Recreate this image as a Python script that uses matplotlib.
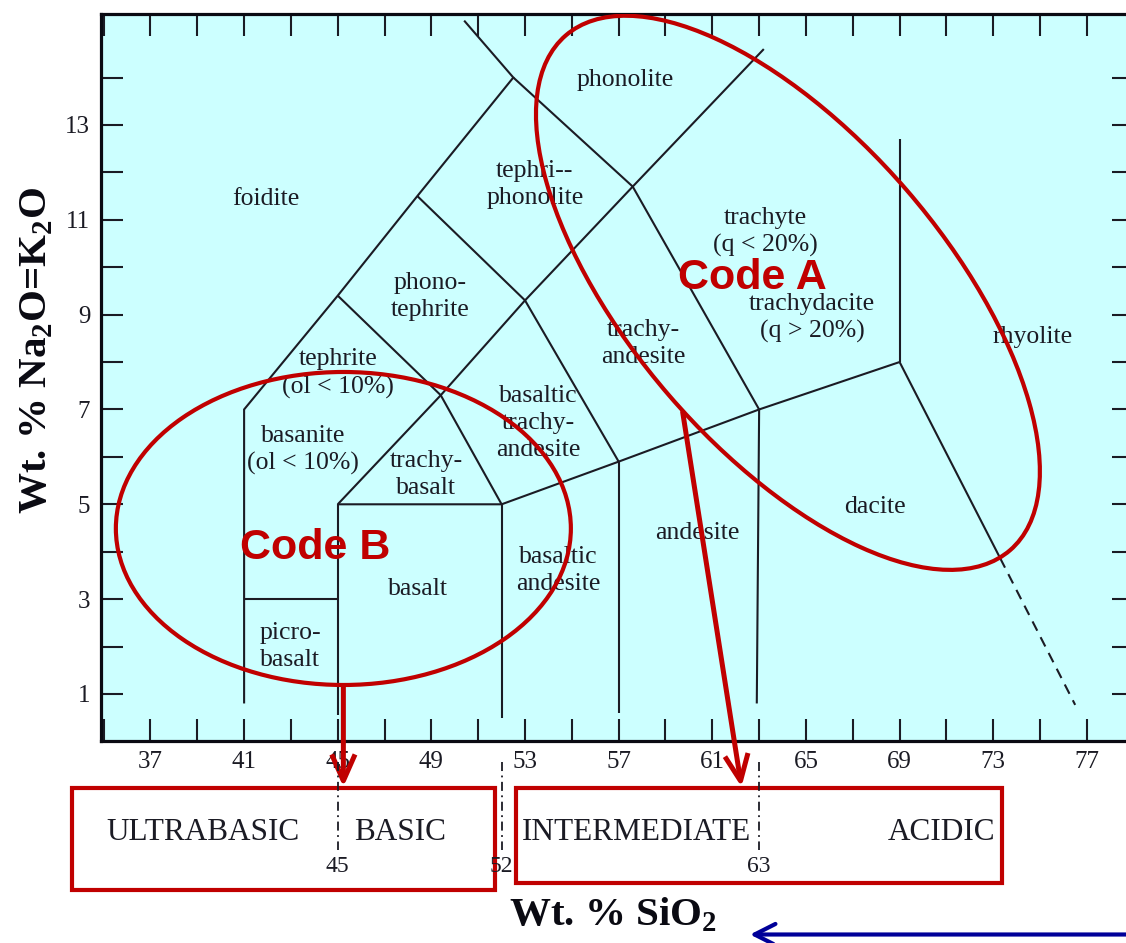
import matplotlib
matplotlib.use("Agg")
import matplotlib.pyplot as plt
import matplotlib.transforms as mtransforms
from matplotlib.patches import Ellipse, Rectangle, FancyArrowPatch
from matplotlib.ticker import FixedLocator

plt.rcParams['font.family'] = ['Liberation Serif', 'DejaVu Serif']

W, H, DPI = 1126, 943, 100
INK = '#1b1b24'
RED = '#c00000'
NAVY = '#000099'
FIELD_BG = '#ccffff'

# ---- TAS classification boundaries (wt% SiO2, wt% Na2O+K2O) ----
foidite_x = [41, 41, 45, 48.4, 52.5, 50.4]
foidite_y = [0.8, 7, 9.4, 11.5, 14, 15.2]

alkali_x = [45, 49.4, 53, 57.6, 63.2]
alkali_y = [5, 7.3, 9.3, 11.7, 14.6]

subalkali_x = [45, 52, 57, 63, 69]
subalkali_y = [5, 5, 5.9, 7, 8]

picro_x = [41, 45]
picro_y = [3, 3]

diag_segments = [
    ([52.5, 57.6], [14, 11.7]),   # phonolite / tephriphonolite
    ([48.4, 53], [11.5, 9.3]),    # tephriphonolite / phonotephrite
    ([45, 49.4], [9.4, 7.3]),     # phonotephrite / tephrite
    ([49.4, 52], [7.3, 5]),       # trachybasalt / basaltic trachyandesite
    ([53, 57], [9.3, 5.9]),       # basaltic trachyandesite / trachyandesite
    ([57.6, 63], [11.7, 7]),      # trachyandesite / trachyte
    ([69, 69], [12.7, 8]),        # trachyte / rhyolite
    ([45, 45], [0.55, 5]),
    ([52, 52], [0.5, 5]),
    ([57, 57], [0.6, 5.9]),
    ([62.9, 63], [0.8, 7]),
]

rhyolite_solid_x = [69, 73.3]
rhyolite_solid_y = [8, 3.86]
rhyolite_dash_x = [73.3, 76.5]
rhyolite_dash_y = [3.86, 0.77]

# ---- field names ----
field_names = [
    ('foidite', 41.93, 11.44),
    ('phonolite', 57.27, 13.95),
    ('tephri--\nphonolite', 53.42, 11.75),
    ('trachyte\n(q < 20%)', 63.25, 10.74),
    ('trachydacite\n(q > 20%)', 65.26, 8.93),
    ('phono-\ntephrite', 48.94, 9.39),
    ('trachy-\nandesite', 58.04, 8.40),
    ('rhyolite', 74.7, 8.53),
    ('tephrite\n(ol < 10%)', 45.0, 7.76),
    ('basaltic\ntrachy-\nandesite', 53.56, 6.71),
    ('basanite\n(ol < 10%)', 43.51, 6.15),
    ('trachy-\nbasalt', 48.77, 5.62),
    ('dacite', 67.95, 4.94),
    ('andesite', 60.38, 4.40),
    ('basaltic\nandesite', 54.41, 3.61),
    ('basalt', 48.43, 3.21),
    ('picro-\nbasalt', 42.96, 2.01),
]

# ---- silica classes ----
class_limits = [45, 52, 63]
class_names = ['ULTRABASIC', 'BASIC', 'INTERMEDIATE', 'ACIDIC']
class_name_x = [39.24, 47.66, 57.78, 70.8]

x_major = [37, 41, 45, 49, 53, 57, 61, 65, 69, 73, 77]
x_minor = [35, 39, 43, 47, 51, 55, 59, 63, 67, 71, 75, 79]
y_major = [1, 3, 5, 7, 9, 11, 13]
y_minor = [2, 4, 6, 8, 10, 12, 14]

# ---- figure & main axes ----
fig = plt.figure(figsize=(W / DPI, H / DPI), dpi=DPI)
fig.patch.set_facecolor('white')
x0, x1, y0, y1 = 34.9, 79.0, 0.0, 15.35
ax = fig.add_axes([101.3 / W, 1 - 741.4 / H, (1133.7 - 101.3) / W, (741.4 - 13.5) / H])
ax.set_xlim(x0, x1)
ax.set_ylim(y0, y1)
ax.set_facecolor(FIELD_BG)

for s in ax.spines.values():
    s.set_linewidth(2.3)
    s.set_color('#0a0a12')

ax.xaxis.set_major_locator(FixedLocator(x_major))
ax.xaxis.set_minor_locator(FixedLocator(x_minor))
ax.yaxis.set_major_locator(FixedLocator(y_major))
ax.yaxis.set_minor_locator(FixedLocator(y_minor))
ax.tick_params(which='both', direction='in', length=16, width=1.5, color=INK,
               top=True, right=True)
ax.tick_params(which='major', labelsize=18, labelcolor=INK)
ax.tick_params(axis='x', which='major', pad=7)
ax.tick_params(axis='y', which='major', pad=8)

line_kw = dict(color=INK, lw=1.5, solid_capstyle='butt', solid_joinstyle='miter')
ax.plot(foidite_x, foidite_y, **line_kw)
ax.plot(alkali_x, alkali_y, **line_kw)
ax.plot(subalkali_x, subalkali_y, **line_kw)
ax.plot(picro_x, picro_y, **line_kw)
for xs, ys in diag_segments:
    ax.plot(xs, ys, **line_kw)
ax.plot(rhyolite_solid_x, rhyolite_solid_y, **line_kw)
ax.plot(rhyolite_dash_x, rhyolite_dash_y, color=INK, lw=1.5, linestyle=(0, (5, 3.5)))

for name, fx, fy in field_names:
    ax.text(fx, fy, name, ha='center', va='center', fontsize=18.5, color=INK,
            linespacing=1.3)

# ---- highlighted groups ----
def pixel_ellipse(cx, cy, a_px, b_px, angle):
    tr = fig.dpi_scale_trans + mtransforms.ScaledTranslation(cx, cy, ax.transData)
    return Ellipse((0, 0), 2 * a_px / DPI, 2 * b_px / DPI, angle=angle,
                   transform=tr, fill=False, edgecolor=RED, lw=3.0, zorder=5)

ellA = dict(cx=64.23, cy=9.46, a=340, b=157, angle=-49.2)
ellB = dict(cx=45.24, cy=4.49, a=227.5, b=156.5, angle=0)
for e in (ellA, ellB):
    ax.add_patch(pixel_ellipse(e['cx'], e['cy'], e['a'], e['b'], e['angle']))

ax.text(62.7, 9.77, 'Code A', ha='center', va='center', fontsize=31,
        fontweight='bold', color=RED, family='Liberation Sans', zorder=6)
ax.text(44.02, 4.08, 'Code B', ha='center', va='center', fontsize=31,
        fontweight='bold', color=RED, family='Liberation Sans', zorder=6)

# ---- overlay in figure pixels (y downward) ----
ov = fig.add_axes([0, 0, 1, 1], zorder=10)
ov.set_xlim(0, W)
ov.set_ylim(H, 0)
ov.axis('off')
ov.patch.set_alpha(0)

def to_px(x, y):
    dx, dy = ax.transData.transform((x, y))
    return dx, H - dy

blend = mtransforms.blended_transform_factory(ax.transData, ov.transData)

# class boundaries below the axis
for lim in class_limits:
    ov.plot([lim, lim], [762, 850], transform=blend, color=INK, lw=1.3,
            linestyle=(0, (5, 2.5, 1, 2.5)))
    ov.text(lim, 866, str(lim), transform=blend, ha='center', va='center',
            fontsize=17, color=INK)

for name, cx in zip(class_names, class_name_x):
    ov.text(cx, 832, name, transform=blend, ha='center', va='center',
            fontsize=22.5, color=INK)

# red boxes grouping the classes
ov.add_patch(Rectangle((71.5, 788), 495 - 71.5, 890 - 788, fill=False,
                       edgecolor=RED, lw=3.0, joinstyle='miter'))
ov.add_patch(Rectangle((516, 788), 1002 - 516, 883 - 788, fill=False,
                       edgecolor=RED, lw=3.0, joinstyle='miter'))

# arrows from the highlighted groups to their silica classes
bx, by = to_px(ellB['cx'], ellB['cy'])
startB = (bx, by + ellB['b'])
arrow_style = '->,head_length=0.95,head_width=0.42'
ov.add_patch(FancyArrowPatch(startB, (bx, 787), arrowstyle=arrow_style,
                             mutation_scale=20, color=RED, lw=3.6,
                             shrinkA=0, shrinkB=0, capstyle='butt'))
ov.add_patch(FancyArrowPatch((682.5, 411), (741.5, 787), arrowstyle=arrow_style,
                             mutation_scale=20, color=RED, lw=3.6,
                             shrinkA=0, shrinkB=0, capstyle='butt'))

# axis titles
ov.text(613, 915, r'Wt. % SiO$_\mathregular{2}$', ha='center', va='center',
        fontsize=29.5, fontweight='bold', color='#0a0a12')
ov.text(37, 350, r'Wt. % Na$_\mathregular{2}$O=K$_\mathregular{2}$O', ha='center',
        va='center', rotation=90, fontsize=29.5, fontweight='bold', color='#0a0a12')

ov.add_patch(FancyArrowPatch((W + 5, 934.5), (750, 934.5),
                             arrowstyle='->,head_length=0.75,head_width=0.38',
                             mutation_scale=20, color=NAVY, lw=3.0,
                             shrinkA=0, shrinkB=0))

fig.savefig('out.png', dpi=DPI)
